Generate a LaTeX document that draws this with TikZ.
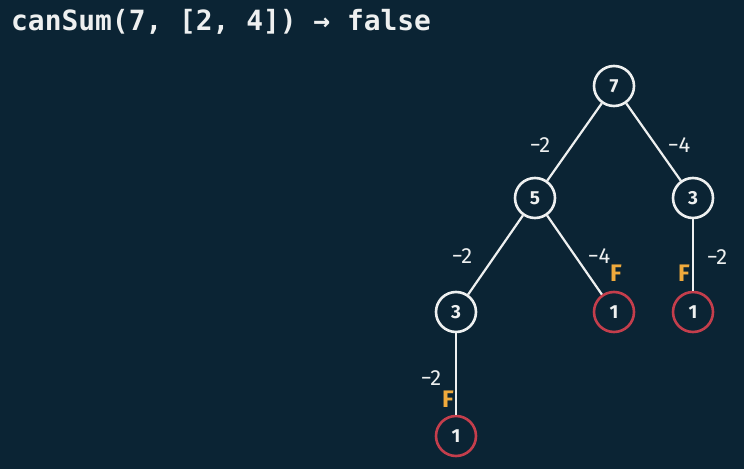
\documentclass[tikz,border=0pt]{standalone}
\usepackage{fontspec}
\setmainfont{Fira Sans}
\newfontfamily\codefont{DejaVu Sans Mono}
\usetikzlibrary{positioning}

\definecolor{board}{RGB}{11,36,52}
\definecolor{chalk}{RGB}{238,240,240}
\definecolor{deadend}{RGB}{196,62,76}
\definecolor{falsemark}{RGB}{240,170,60}

\begin{document}
\begin{tikzpicture}[x=1bp, y=-1bp]

        \tikzstyle{value} = [circle, draw=chalk, line width=2.6bp, minimum size=40bp, inner sep=0pt,
            text=chalk, font=\fontsize{19}{19}\selectfont\bfseries]
        \tikzstyle{leaf}  = [value, draw=deadend]
        \tikzstyle{minus} = [text=chalk, inner sep=0pt, font=\fontsize{22}{22}\selectfont]
        \tikzstyle{fail}  = [text=falsemark, inner sep=0pt, font=\fontsize{24}{24}\selectfont\bfseries]
        \tikzstyle{edge}  = [draw=chalk, line width=2.2bp]

        \useasboundingbox[fill=board] (0,0) rectangle (744,469);

        \node[text=chalk, anchor=west, inner sep=0pt, font=\codefont\fontsize{28}{28}\selectfont\bfseries]
            (title) at (11,22) {canSum(7, [2, 4]) → false};

        \node[value] (root)   at (614,86)  {7};
        \node[value] (five)   at (535,198) {5};
        \node[value] (threeR) at (693,198) {3};
        \node[value] (threeL) at (456,312) {3};
        \node[leaf]  (oneA)   at (614,312) {1};
        \node[leaf]  (oneB)   at (693,312) {1};
        \node[leaf]  (oneC)   at (456,436) {1};

        \draw[edge] (root)   -- (five);
        \draw[edge] (root)   -- (threeR);
        \draw[edge] (five)   -- (threeL);
        \draw[edge] (five)   -- (oneA);
        \draw[edge] (threeR) -- (oneB);
        \draw[edge] (threeL) -- (oneC);

        \node[minus] (m1) at (540,145) {−2};
        \node[minus] (m2) at (679,145) {−4};
        \node[minus] (m3) at (462,256) {−2};
        \node[minus] (m4) at (599,256) {−4};
        \node[minus] (m5) at (717,257) {−2};
        \node[minus] (m6) at (431,378) {−2};

        \node[fail] (f1) at (616,273) {F};
        \node[fail] (f2) at (684,273) {F};
        \node[fail] (f3) at (448,399) {F};

      \end{tikzpicture}
\end{document}
